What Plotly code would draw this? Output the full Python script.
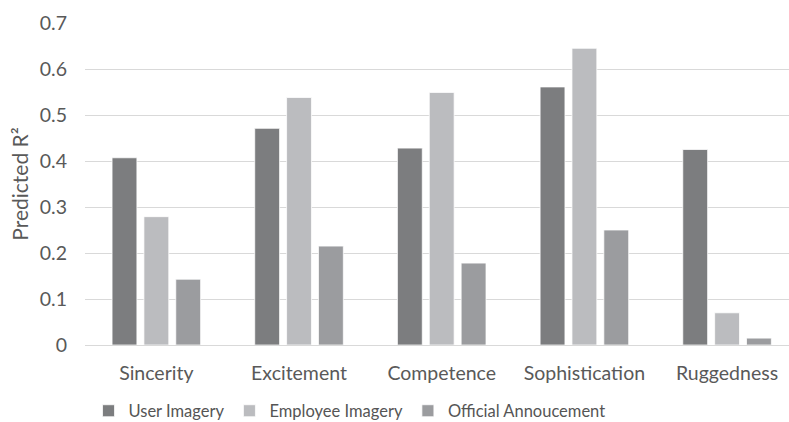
import plotly.graph_objects as go

# Brand personality dimensions and predicted R² per imagery source
categories = ["Sincerity", "Excitement", "Competence", "Sophistication", "Ruggedness"]
user_imagery = [0.407, 0.471, 0.428, 0.561, 0.425]
employee_imagery = [0.279, 0.538, 0.549, 0.645, 0.070]
official_announcement = [0.143, 0.215, 0.178, 0.250, 0.015]
y_ticks = [0, 0.1, 0.2, 0.3, 0.4, 0.5, 0.6, 0.7]
y_tick_labels = ["0", "0.1", "0.2", "0.3", "0.4", "0.5", "0.6", "0.7"]

FONT = "Lato"
TEXT = "#595959"

series = [
    ("User Imagery", user_imagery, "#7c7d7f"),
    ("Employee Imagery", employee_imagery, "#bbbcbf"),
    ("Official Annoucement", official_announcement, "#9b9c9f"),
]

fig = go.Figure()
for name, vals, color in series:
    fig.add_trace(go.Bar(
        x=categories, y=vals, name=name,
        marker=dict(color=color, line=dict(color="#ffffff", width=0.75)),
    ))

fig.update_layout(
    width=789, height=422,
    margin=dict(l=85, r=0, t=23, b=77, autoexpand=False),
    paper_bgcolor="white", plot_bgcolor="white",
    barmode="group", bargap=0.33, bargroupgap=0.22,
    font=dict(family=FONT, color=TEXT, size=17),
    showlegend=True,
    legend=dict(
        orientation="h", x=0.005, xanchor="left", y=-0.205, yanchor="middle",
        font=dict(family=FONT, size=16.5, color="#555555"),
        itemwidth=30, tracegroupgap=0, bgcolor="rgba(0,0,0,0)",
    ),
    xaxis=dict(
        range=[-0.5, 4.434], showgrid=False, zeroline=False,
        showline=True, linecolor="#d9d9d9", linewidth=1,
        ticks="", ticklabelstandoff=11,
        tickfont=dict(family=FONT, size=19.5, color=TEXT),
        fixedrange=True,
    ),
    yaxis=dict(
        range=[0, 0.7], tickvals=y_ticks, ticktext=y_tick_labels,
        showgrid=True, gridcolor="#d9d9d9", gridwidth=1, zeroline=False,
        showline=False, ticks="", ticklabelstandoff=17,
        tickfont=dict(family=FONT, size=19.5, color=TEXT),
        title=dict(text="Predicted R²", font=dict(family=FONT, size=21, color=TEXT), standoff=5),
        automargin=False, fixedrange=True,
    ),
)

fig.write_html("out.html")
